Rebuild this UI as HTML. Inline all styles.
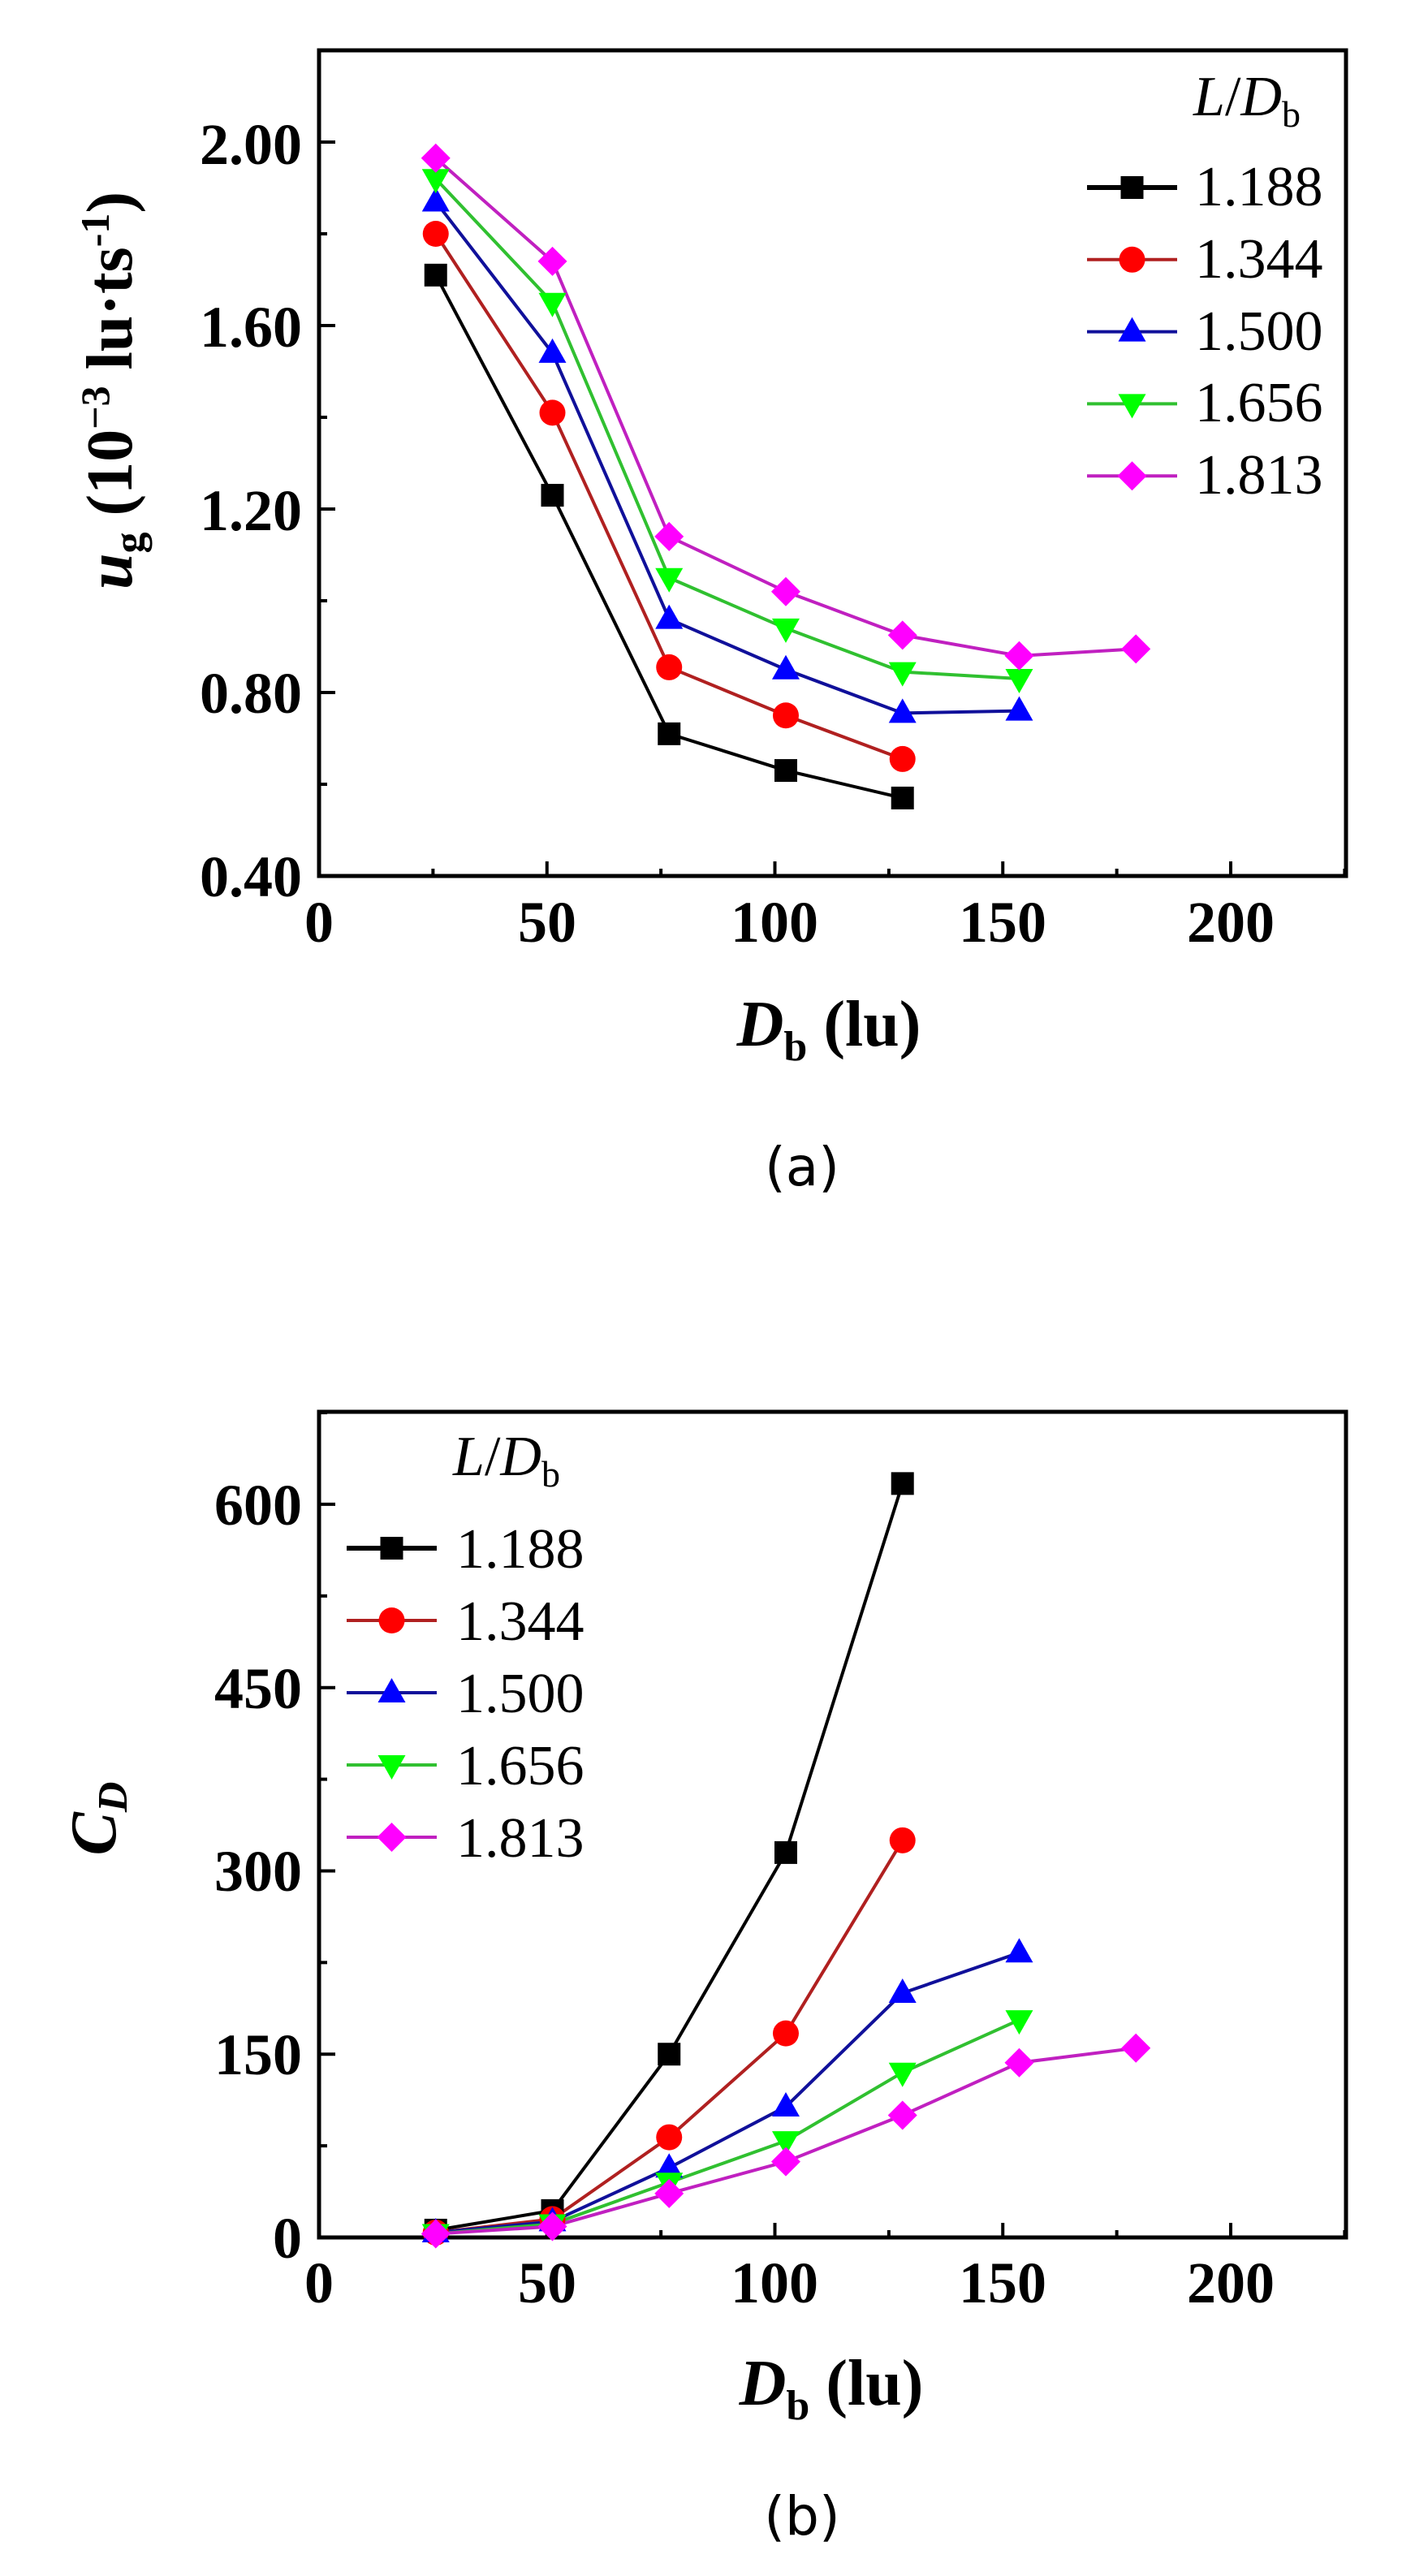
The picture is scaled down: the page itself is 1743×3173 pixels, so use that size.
<!DOCTYPE html>
<html><head><meta charset="utf-8"><style>
html,body{margin:0;padding:0;background:#fff;}
svg{display:block;}
.t{font-family:"Liberation Serif",serif;}
</style></head><body>
<svg id="s" width="1743" height="3173" viewBox="0 0 1743 3173" xmlns="http://www.w3.org/2000/svg">
<rect width="1743" height="3173" fill="#fff"/>
<g id="g"></g>
<!-- Panel a texts -->
<g class="t" font-weight="bold" font-size="72" text-anchor="end" fill="#000">
<text x="372" y="1104">0.40</text>
<text x="372" y="878">0.80</text>
<text x="372" y="653">1.20</text>
<text x="372" y="427">1.60</text>
<text x="372" y="202">2.00</text>
</g>
<g class="t" font-weight="bold" font-size="72" text-anchor="middle" fill="#000">
<text x="393" y="1160">0</text>
<text x="674" y="1160">50</text>
<text x="954" y="1160">100</text>
<text x="1235" y="1160">150</text>
<text x="1516" y="1160">200</text>
</g>
<text class="t" font-weight="bold" font-size="80" text-anchor="middle" transform="translate(162,481) rotate(-90)"><tspan font-style="italic">u</tspan><tspan font-size="52" dy="14">g</tspan><tspan dy="-14"> (10</tspan><tspan font-size="50" dy="-28">−3</tspan><tspan dy="28"> lu·ts</tspan><tspan font-size="50" dy="-28">-1</tspan><tspan dy="28">)</tspan></text>
<text class="t" font-weight="bold" font-size="80" x="1021" y="1288" text-anchor="middle"><tspan font-style="italic">D</tspan><tspan font-size="52" dy="18">b</tspan><tspan dy="-18"> (lu)</tspan></text>
<text font-family="DejaVu Sans, sans-serif" font-size="66" x="988" y="1460" text-anchor="middle">(a)</text>
<g class="t" font-size="70" fill="#000">
<text x="1470" y="142"><tspan font-style="italic">L</tspan>/<tspan font-style="italic">D</tspan><tspan font-size="46" dy="14">b</tspan></text>
<text x="1472" y="253">1.188</text>
<text x="1472" y="342">1.344</text>
<text x="1472" y="431">1.500</text>
<text x="1472" y="519">1.656</text>
<text x="1472" y="608">1.813</text>
</g>
<!-- Panel b texts -->
<g class="t" font-weight="bold" font-size="72" text-anchor="end" fill="#000">
<text x="372" y="2781">0</text>
<text x="372" y="2555">150</text>
<text x="372" y="2329">300</text>
<text x="372" y="2104">450</text>
<text x="372" y="1878">600</text>
</g>
<g class="t" font-weight="bold" font-size="72" text-anchor="middle" fill="#000">
<text x="393" y="2836">0</text>
<text x="674" y="2836">50</text>
<text x="954" y="2836">100</text>
<text x="1235" y="2836">150</text>
<text x="1516" y="2836">200</text>
</g>
<text class="t" font-weight="bold" font-style="italic" font-size="80" transform="translate(142,2240) rotate(-90)" text-anchor="middle">C<tspan font-size="52" dy="14">D</tspan></text>
<text class="t" font-weight="bold" font-size="80" x="1024" y="2962" text-anchor="middle"><tspan font-style="italic">D</tspan><tspan font-size="52" dy="18">b</tspan><tspan dy="-18"> (lu)</tspan></text>
<text font-family="DejaVu Sans, sans-serif" font-size="66" x="988" y="3122" text-anchor="middle">(b)</text>
<g class="t" font-size="70" fill="#000">
<text x="558" y="1817"><tspan font-style="italic">L</tspan>/<tspan font-style="italic">D</tspan><tspan font-size="46" dy="14">b</tspan></text>
<text x="562" y="1931">1.188</text>
<text x="562" y="2020">1.344</text>
<text x="562" y="2109">1.500</text>
<text x="562" y="2198">1.656</text>
<text x="562" y="2287">1.813</text>
</g>
</svg>
<script>
(function(){
var NS="http://www.w3.org/2000/svg",g=document.getElementById('g');
function el(n,a){var e=document.createElementNS(NS,n);for(var k in a)e.setAttribute(k,a[k]);g.appendChild(e);return e;}
var cols=[["#000","#000"],["#f00","#b02020"],["#00f","#10109a"],["#0f0","#30c030"],["#f0f","#c020c0"]];
function marker(t,x,y,c){
 if(t==0)el('rect',{x:x-14,y:y-14,width:28,height:28,fill:c});
 else if(t==1)el('circle',{cx:x,cy:y,r:16,fill:c});
 else if(t==2)el('polygon',{points:(x)+","+(y-18)+" "+(x-17)+","+(y+12)+" "+(x+17)+","+(y+12),fill:c});
 else if(t==3)el('polygon',{points:(x)+","+(y+18)+" "+(x-17)+","+(y-12)+" "+(x+17)+","+(y-12),fill:c});
 else el('polygon',{points:x+","+(y-18)+" "+(x+18)+","+y+" "+x+","+(y+18)+" "+(x-18)+","+y,fill:c});
}
var X=function(v){return 393+v*5.615;};
var xs=[25.6,51.2,76.8,102.4,128,153.6,179.2];
function panel(top,bot,vmin,vmax,maj,minr,data,leg){
 var Y=function(v){return bot-(v-vmin)/(vmax-vmin)*(bot-top);};
 el('rect',{x:393,y:top,width:1265,height:bot-top,fill:'none',stroke:'#000','stroke-width':5});
 for(var v=0;v<=225;v+=25){var x=X(v);var L=(v%50==0)?18:9;el('line',{x1:x,y1:bot,x2:x,y2:bot-L,stroke:'#000','stroke-width':4});}
 for(var v=vmin;v<=vmax+1e-6;v+=maj/2){var y=Y(v);var m=Math.abs(((v-vmin)/maj)-Math.round((v-vmin)/maj))<1e-6;el('line',{x1:393,y1:y,x2:393+(m?20:10),y2:y,stroke:'#000','stroke-width':4});}
 data.forEach(function(d,i){
  var pts=d.map(function(v,j){return X(xs[j])+","+Y(v);}).join(" ");
  el('polyline',{points:pts,fill:'none',stroke:cols[i][1],'stroke-width':4,'stroke-linejoin':'round'});
 });
 data.forEach(function(d,i){d.forEach(function(v,j){marker(i,X(xs[j]),Y(v),cols[i][0]);});});
 for(var i=0;i<5;i++){var y=leg.y+leg.dy*i;el('line',{x1:leg.x1,y1:y,x2:leg.x2,y2:y,stroke:cols[i][1],'stroke-width':i==0?6:4});marker(i,(leg.x1+leg.x2)/2,y,cols[i][0]);}
}
panel(62,1079,0.4,2.2,0.4,0.2,[
 [1.71,1.23,0.71,0.63,0.57],
 [1.80,1.41,0.855,0.75,0.655],
 [1.87,1.54,0.96,0.85,0.755,0.76],
 [1.92,1.65,1.05,0.94,0.845,0.83],
 [1.965,1.74,1.14,1.02,0.925,0.88,0.895]],{x1:1339,x2:1450,y:231,dy:88.8});
panel(1739,2756,0,675.7,150,75,[
 [6,22,150,315,617],
 [4,15,82,167,325],
 [4,13,57,107,200,233],
 [3,11,45,79,135,178],
 [3,9,36,62,100,143,155]],{x1:427,x2:538,y:1907,dy:89});
})();
</script>
</body></html>
